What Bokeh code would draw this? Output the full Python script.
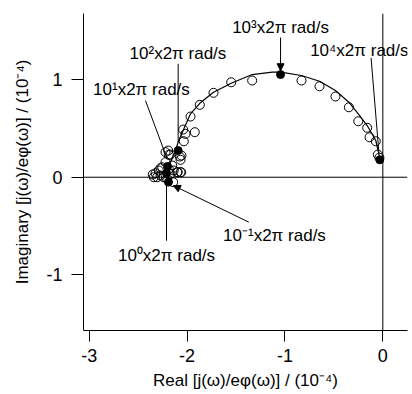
from bokeh.plotting import figure
from bokeh.models import Range1d, Span, Label, Arrow, NormalHead, FixedTicker
from bokeh.embed import file_html
from bokeh.resources import INLINE

# measured (open circles)
open_x = [-0.831, -0.647, -0.484, -0.347, -0.251, -0.160, -0.136, -0.072, -0.051, -0.035,
          -1.335, -1.549, -1.730, -1.870, -1.965, -2.040, -1.921, -2.016, -2.033,
          -2.220, -2.187, -2.074, -2.067, -2.193, -2.169, -2.057,
          -2.350, -2.305, -2.271, -2.322, -2.340, -2.289, -2.254, -2.136, -2.095, -2.060,
          -2.169, -2.238, -2.203, -2.152, -2.220, -2.187, -2.271, -2.101, -2.067, -2.142]
open_y = [0.990, 0.931, 0.826, 0.716, 0.573, 0.506, 0.409, 0.368, 0.232, 0.200,
          0.990, 0.972, 0.864, 0.741, 0.621, 0.488, 0.461, 0.444, 0.368,
          0.256, 0.229, 0.212, 0.178, 0.273, 0.232, 0.222,
          0.028, 0.000, 0.092, 0.041, 0.000, 0.069, 0.102, 0.069, 0.051, 0.051,
          0.035, 0.000, -0.017, 0.120, 0.154, 0.086, 0.017, 0.051, 0.051, -0.051]

# decade frequencies (filled circles): 1e4, 1e3, 1e2, 1e1, 1e0, 1e-1
filled_x = [-0.031, -1.045, -2.091, -2.200, -2.210, -2.190]
filled_y = [0.178, 1.051, 0.273, 0.110, 0.040, -0.050]

# fitted curve
fit_x = [-2.190, -2.210, -2.200, -2.170, -2.110, -2.085, -1.965, -1.870, -1.730, -1.549, -1.335,
         -1.130, -1.045, -0.831, -0.647, -0.484, -0.347, -0.251, -0.160, -0.072, -0.041, -0.024]
fit_y = [-0.050, 0.020, 0.080, 0.150, 0.300, 0.376, 0.649, 0.757, 0.870, 0.962, 1.051,
         1.075, 1.075, 1.041, 0.983, 0.887, 0.768, 0.649, 0.529, 0.376, 0.240, 0.171]

x_ticks = [-3, -2, -1, 0]
y_ticks = [-1, 0, 1]
x_tick_labels = ["-3", "-2", "-1", "0"]
y_tick_labels = ["-1", "0", "1"]

freq_labels = ["10\u00b3x2\u03c0 rad/s", "10\u2074x2\u03c0 rad/s", "10\u00b2x2\u03c0 rad/s",
               "10\u00b9x2\u03c0 rad/s", "10\u2070x2\u03c0 rad/s", "10\u207b\u00b9x2\u03c0 rad/s"]
label_pos = [(-1.045, 1.53), (-0.24, 1.30), (-2.093, 1.27), (-2.466, 0.90), (-2.21, -0.80), (-1.107, -0.60)]
pointer_start = [(-1.045, 1.43), (-0.12, 1.22), (-2.091, 1.16), (-2.425, 0.785), (-2.21, -0.65), (-1.369, -0.46)]
pointer_end = [(-1.045, 1.09), (-0.04, 0.25), (-2.091, 0.36), (-2.204, 0.19), (-2.21, 0.03), (-2.14, -0.085)]
pointer_head = [True, False, False, False, False, True]

FONT = "Liberation Sans"

p = figure(width=412, height=394, output_backend="svg", toolbar_location=None,
           x_range=Range1d(-3.058, 0.252), y_range=Range1d(-1.569, 1.676),
           min_border_left=83, min_border_right=5, min_border_top=13, min_border_bottom=64)
p.outline_line_color = None
p.grid.visible = False
p.background_fill_color = "white"
p.border_fill_color = "white"

for ax, ticks, labs in ((p.xaxis[0], x_ticks, x_tick_labels), (p.yaxis[0], y_ticks, y_tick_labels)):
    ax.ticker = FixedTicker(ticks=ticks, minor_ticks=[])
    ax.major_label_overrides = {t: l for t, l in zip(ticks, labs)}
    ax.major_tick_in = 0
    ax.minor_tick_line_color = None
    ax.axis_line_color = "black"
    ax.major_tick_line_color = "black"
    ax.major_label_text_font = FONT
    ax.major_label_text_font_size = "18px"
    ax.major_label_text_color = "black"
    ax.axis_label_text_font = FONT
    ax.axis_label_text_font_size = "17px"
    ax.axis_label_text_font_style = "normal"
    ax.axis_label_text_color = "black"

p.xaxis[0].axis_label = "Real [j(\u03c9)/e\u03c6(\u03c9)] / (10\u207b\u2074)"
p.yaxis[0].axis_label = "Imaginary [j(\u03c9)/e\u03c6(\u03c9)] / (10\u207b\u2074)"
p.xaxis[0].major_tick_out = 11
p.yaxis[0].major_tick_out = 12
p.xaxis[0].major_label_standoff = 7
p.xaxis[0].axis_label_standoff = 6
p.yaxis[0].major_label_standoff = 9
p.yaxis[0].axis_label_standoff = 11
p.yaxis[0].major_label_orientation = "horizontal"

p.add_layout(Span(location=0, dimension="width", line_color="black", line_width=1))
p.add_layout(Span(location=0, dimension="height", line_color="black", line_width=1))

p.line(fit_x, fit_y, line_color="black", line_width=1.2)
p.scatter(open_x, open_y, size=9, marker="circle", fill_color=None, line_color="black", line_width=1)
p.scatter(filled_x, filled_y, size=8, marker="circle", fill_color="black", line_color="black")

for txt, (lx, ly), (sx, sy), (ex, ey), head in zip(freq_labels, label_pos, pointer_start, pointer_end, pointer_head):
    p.add_layout(Arrow(x_start=sx, y_start=sy, x_end=ex, y_end=ey, line_color="black", line_width=1,
                       end=NormalHead(size=7, fill_color="black", line_color="black") if head else None))
    p.add_layout(Label(x=lx, y=ly, text=txt, text_align="center", text_baseline="middle",
                       text_font=FONT, text_font_size="17px", text_color="black"))

open("out.html", "w").write(file_html(p, INLINE))
